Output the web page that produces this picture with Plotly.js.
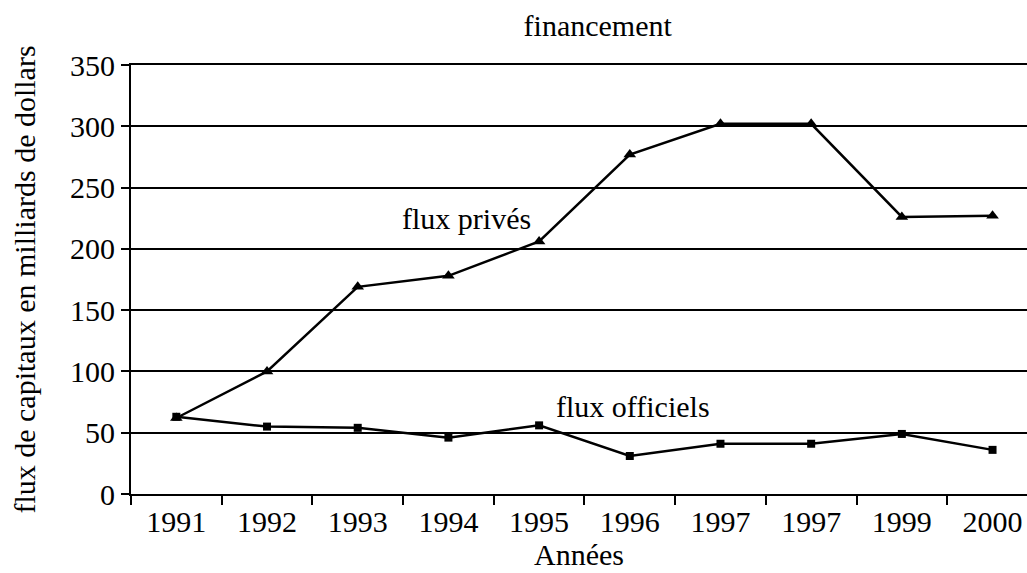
<!DOCTYPE html>
<html>
<head>
<meta charset="utf-8">
<script src="https://cdn.plot.ly/plotly-3.0.1.min.js"></script>
<style>
  body { margin: 0; background: #fff; }
  #myGraph { width: 1027px; height: 573px; }
</style>
</head>
<body>
<div id="myGraph"></div>
<script>
// données
let annees = ["1991", "1992", "1993", "1994", "1995", "1996", "1997", "1997", "1999", "2000"];
let fluxPrives = [62, 100, 169, 178, 206, 277, 302, 302, 226, 227];
let fluxOfficiels = [63, 55, 54, 46, 56, 31, 41, 41, 49, 36];

let serif = "Liberation Serif";
let taille = 30;
let pos = annees.map((a, i) => i);
let bords = [];
for (let i = 0; i <= annees.length; i++) bords.push(i - 0.5);

let trace1 = {
  type: "scatter",
  mode: "lines+markers",
  name: "flux privés",
  x: pos,
  y: fluxPrives,
  line: {color: "#000", width: 2.5},
  marker: {symbol: "triangle-up", size: 11, color: "#000"}
};

let trace2 = {
  type: "scatter",
  mode: "lines+markers",
  name: "flux officiels",
  x: pos,
  y: fluxOfficiels,
  line: {color: "#000", width: 2.5},
  marker: {symbol: "square", size: 8, color: "#000"}
};

let layout = {
  width: 1027,
  height: 573,
  margin: {l: 131, r: 0, t: 65, b: 79},
  showlegend: false,
  paper_bgcolor: "#fff",
  plot_bgcolor: "#fff",
  font: {family: serif, color: "#000", size: taille},
  title: {
    text: "financement",
    font: {family: serif, size: taille, color: "#000"},
    x: 0.582, xanchor: "center", y: 0.955, yanchor: "middle"
  },
  xaxis: {
    range: [-0.5, 9.38],
    tickvals: pos,
    ticktext: annees,
    ticks: "",
    showgrid: false,
    zeroline: false,
    showline: true,
    mirror: true,
    linecolor: "#000",
    linewidth: 2,
    tickfont: {family: serif, size: taille},
    title: {text: "Années", font: {family: serif, size: taille}, standoff: 6}
  },
  // marques de graduation aux limites des catégories
  xaxis2: {
    overlaying: "x",
    side: "bottom",
    anchor: "y",
    range: [-0.5, 9.38],
    tickvals: bords,
    ticks: "outside",
    ticklen: 10,
    tickwidth: 2,
    tickcolor: "#000",
    showticklabels: false,
    showgrid: false,
    zeroline: false
  },
  yaxis: {
    range: [0, 350],
    dtick: 50,
    ticks: "outside",
    ticklen: 8,
    tickwidth: 2,
    tickcolor: "#000",
    showline: true,
    linecolor: "#000",
    linewidth: 2,
    showgrid: true,
    gridcolor: "#000",
    gridwidth: 2,
    zeroline: false,
    tickfont: {family: serif, size: taille},
    title: {text: "flux de capitaux en milliards de dollars", font: {family: serif, size: taille}, standoff: 26}
  },
  annotations: [
    {x: 3.2, y: 225, text: "flux privés", showarrow: false, font: {family: serif, size: taille}},
    {x: 5.03, y: 71, text: "flux officiels", showarrow: false, font: {family: serif, size: taille}}
  ]
};

let ticksTrace = {type: "scatter", x: [], y: [], xaxis: "x2", yaxis: "y", hoverinfo: "skip"};

Plotly.newPlot(document.getElementById("myGraph"), [ticksTrace, trace1, trace2], layout, {displayModeBar: false});
</script>
</body>
</html>
